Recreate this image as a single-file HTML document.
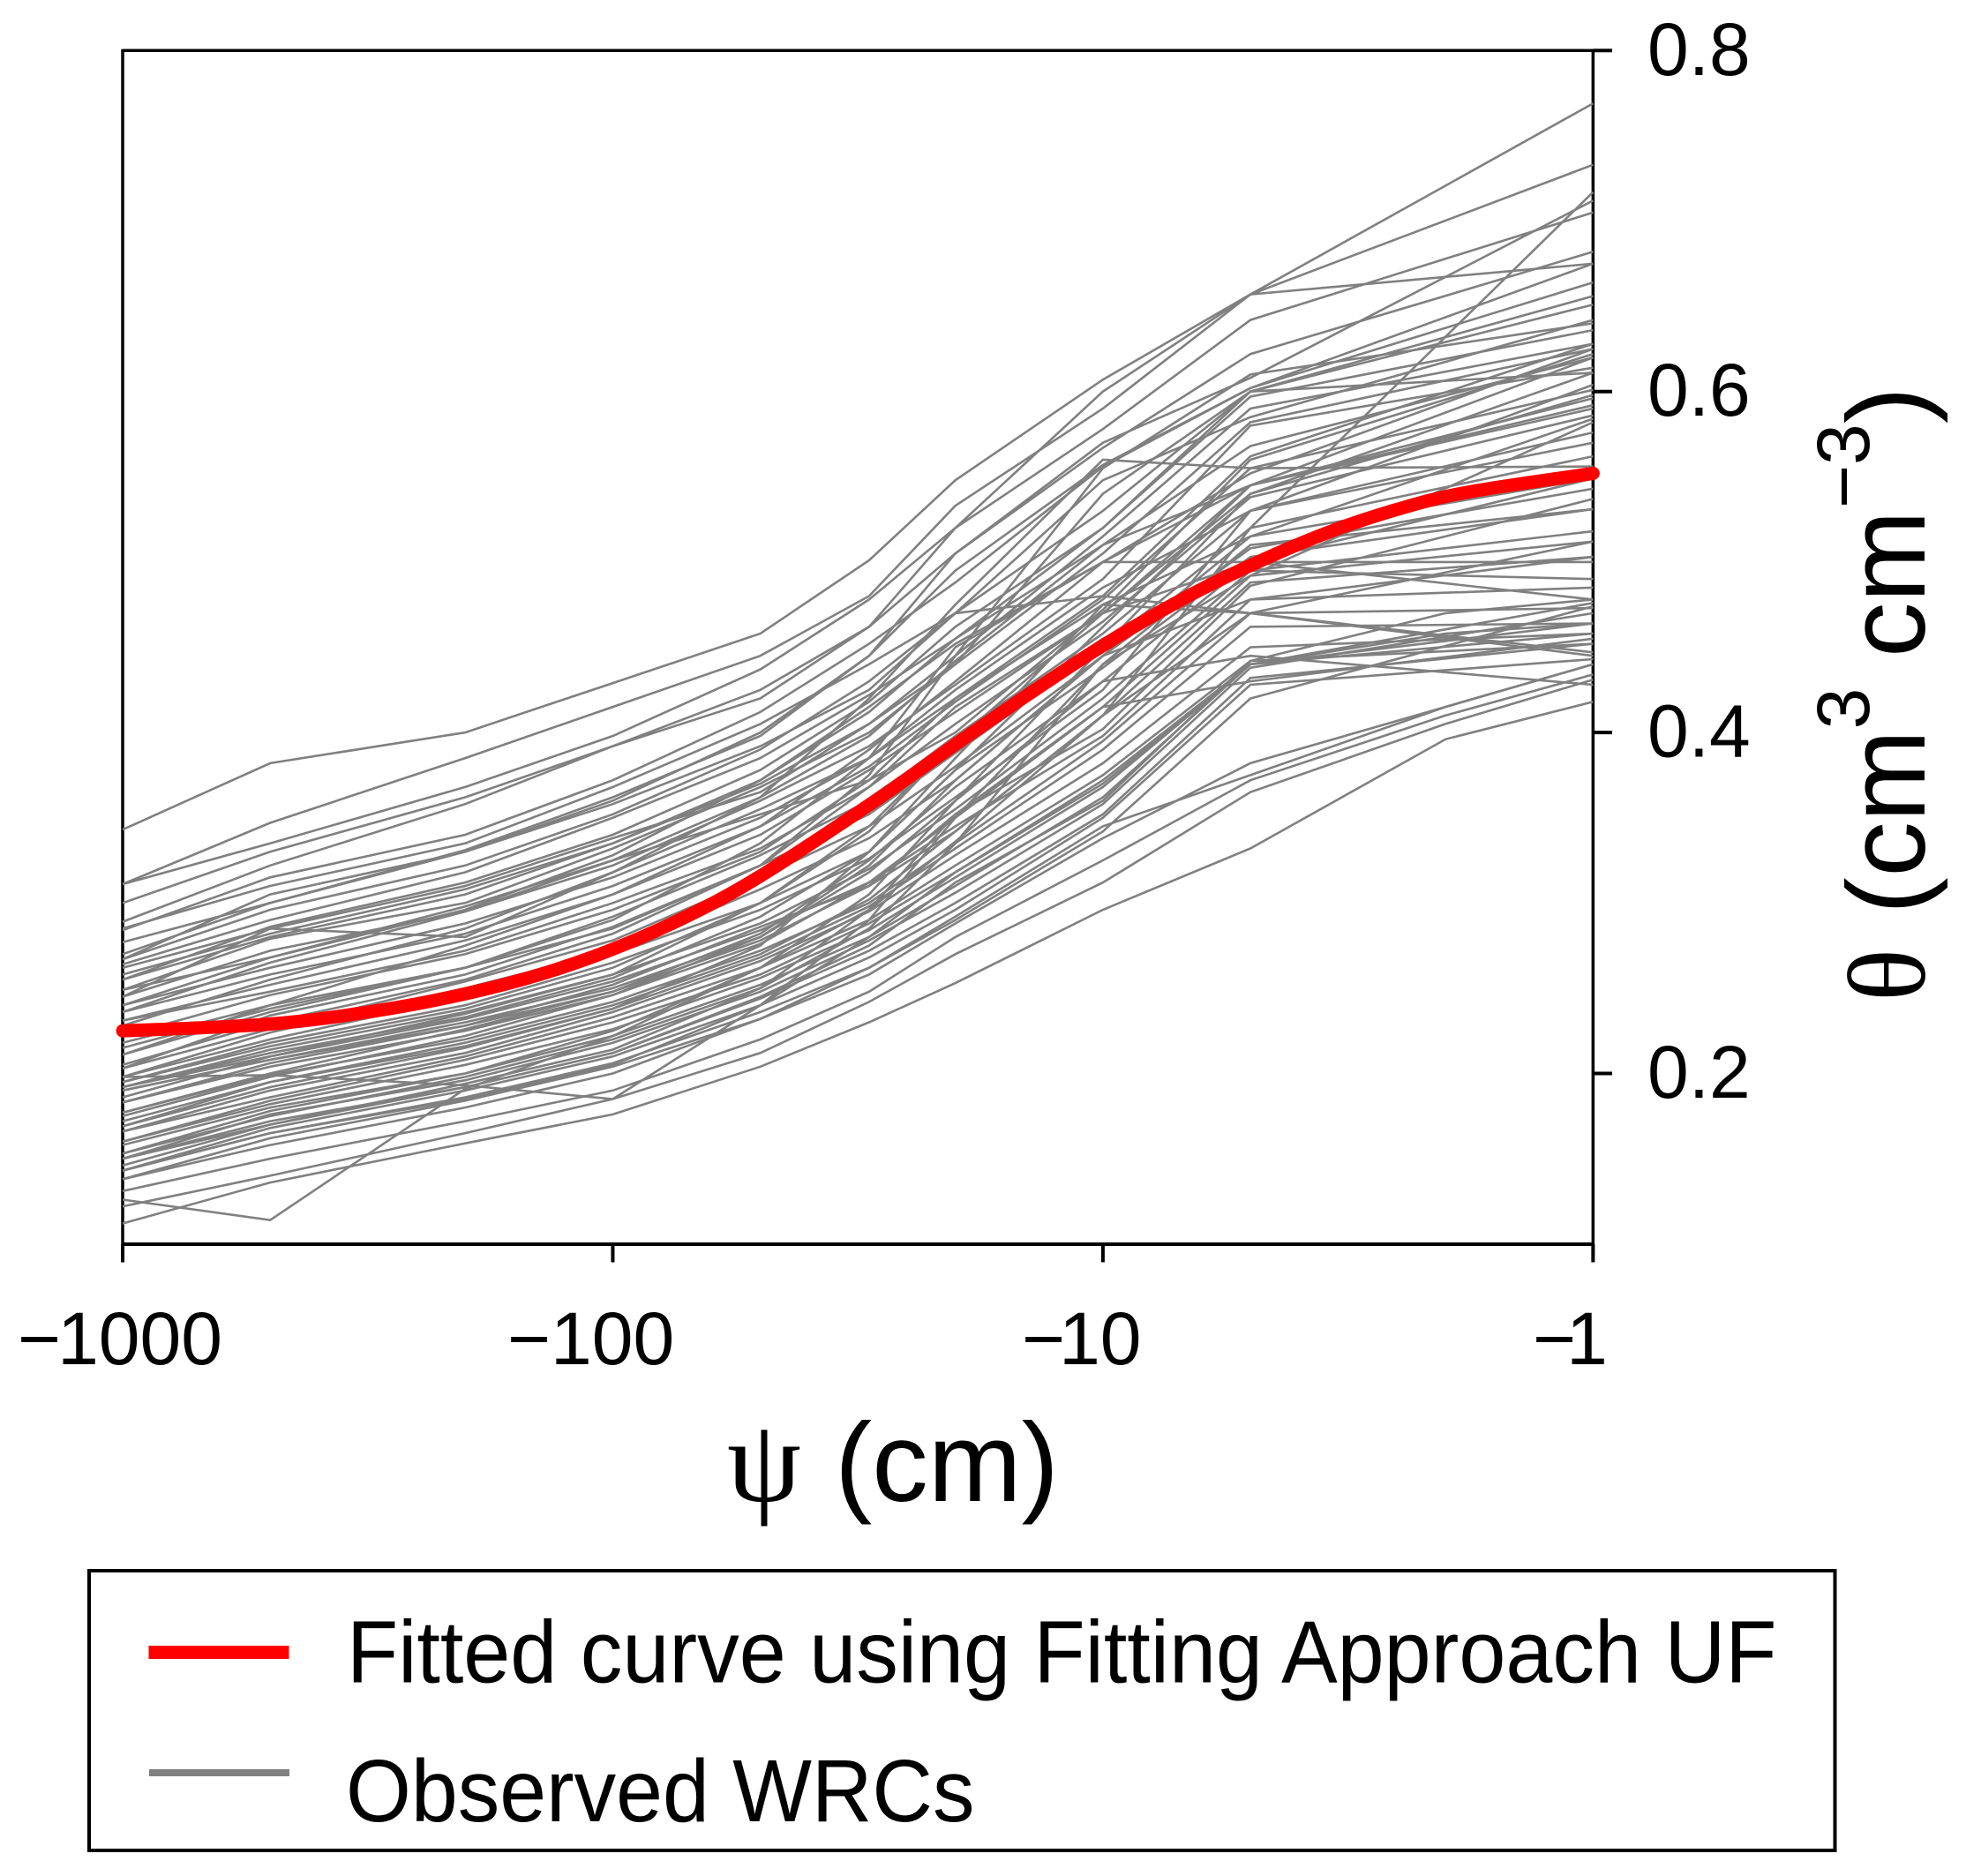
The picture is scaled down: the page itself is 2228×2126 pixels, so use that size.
<!DOCTYPE html>
<html lang="en">
<head>
<meta charset="utf-8">
<title>Water retention curves</title>
<style>
html,body{margin:0;padding:0;background:#fff;}
svg{display:block;}
text{font-family:"Liberation Sans",sans-serif;fill:#000;}
.serif{font-family:"Liberation Serif",serif;}
</style>
</head>
<body>
<svg id="chart" xmlns="http://www.w3.org/2000/svg" width="2228" height="2126" viewBox="0 0 2228 2126">
  <rect x="0" y="0" width="2228" height="2126" fill="#fff"/>
  <g id="axes"></g>
  <g id="observed"></g>
  <g id="fitted"></g>

  <g font-size="84">
    <text x="20" y="1546">−<tspan dx="-4">1000</tspan></text>
    <text x="575" y="1546">−100</text>
    <text x="1158" y="1546">−<tspan dx="-7">10</tspan></text>
    <text x="1737" y="1546">−<tspan dx="-11">1</tspan></text>
  </g>

  <g>
    <text class="serif" x="824" y="1701" font-size="134">ψ</text>
    <text x="946" y="1701" font-size="127">(cm)</text>
  </g>

  <g>
    <text class="serif" transform="translate(2181,1135) rotate(-90)" font-size="125">θ</text>
    <text transform="translate(2181,1036) rotate(-90)" font-size="125">(</text>
    <text transform="translate(2181,993.6) rotate(-90)" font-size="125">cm</text>
    <text transform="translate(2118,826.4) rotate(-90)" font-size="84">3</text>
    <text transform="translate(2181,745) rotate(-90)" font-size="125">cm</text>
    <text transform="translate(2118,576) rotate(-90)" font-size="84">−3</text>
    <text transform="translate(2181,480) rotate(-90)" font-size="125">)</text>
  </g>

  <g>
    <path d="M101 1780H2079.5V2097H101Z" fill="none" stroke="#000" stroke-width="4"/>
    <rect x="168.5" y="1865" width="159" height="15" fill="#ff0000"/>
    <text transform="translate(393,1906.5) scale(0.953,1)" font-size="100">Fitted curve using Fitting Approach UF</text>
    <rect x="169" y="2005" width="159" height="8" fill="#808080"/>
    <text transform="translate(392,2064) scale(0.95,1)" font-size="100">Observed WRCs</text>
  </g>
</svg>
<script>
const psiValues = [-1000,-500,-200,-100,-50,-30,-20,-10,-5,-1];
const psiValuesLower = [-1000,-500,-200,-100,-50,-30,-20,-10,-5,-2,-1];
const fittedPsi = [-1000,-500,-300,-200,-140,-100,-70,-50,-30,-20,-14,-10,-7,-5,-3.5,-2.5,-1.8,-1];
const fittedTheta = [.225,.229,.237,.2467,.2583,.2729,.2927,.3158,.3575,.393,.4235,.451,.477,.498,.517,.531,.541,.552];
const xTickValues = [-1000,-100,-10,-1];
const yTickValues = [0.8,0.6,0.4,0.2];
const yTickLabels = ["0.8","0.6","0.4","0.2"];

const observedCurves = [
[.343,.382,.400,.429,.458,.501,.548,.607,.657,.769],
[.311,.347,.385,.415,.445,.480,.533,.590,.657,.733],
[.311,.335,.368,.398,.437,.478,.520,.578,.642,.705],
[.289,.322,.358,.392,.420,.462,.505,.567,.622,.682],
[.284,.315,.340,.372,.412,.452,.488,.556,.602,.675],
[.277,.300,.331,.362,.398,.445,.495,.557,.602,.664],
[.267,.296,.322,.352,.390,.430,.470,.530,.600,.656],
[.264,.290,.318,.350,.385,.422,.455,.520,.600,.651],
[.267,.305,.330,.358,.392,.425,.470,.548,.585,.642],
[.255,.286,.312,.340,.378,.418,.462,.520,.597,.636],
[.255,.280,.305,.335,.370,.405,.445,.515,.590,.628],
[.249,.279,.300,.332,.368,.400,.440,.505,.582,.625],
[.249,.268,.298,.325,.362,.398,.442,.510,.568,.620],
[.245,.272,.295,.322,.360,.392,.428,.490,.580,.614],
[.245,.285,.280,.318,.355,.385,.420,.480,.562,.628],
[.236,.258,.282,.310,.345,.380,.418,.478,.555,.601],
[.236,.265,.295,.325,.352,.372,.400,.472,.560,.622],
[.231,.252,.278,.305,.340,.378,.412,.470,.545,.596],
[.231,.248,.272,.300,.332,.368,.405,.465,.538,.586],
[.211,.240,.275,.305,.345,.390,.430,.500,.552,.625],
[.211,.236,.262,.292,.328,.360,.398,.458,.530,.576],
[.203,.234,.258,.286,.322,.352,.388,.450,.520,.562],
[.203,.226,.254,.278,.315,.345,.380,.445,.515,.549],
[.198,.224,.250,.272,.308,.338,.372,.445,.508,.543],
[.198,.220,.245,.270,.300,.330,.378,.438,.503,.531],
[.195,.218,.240,.265,.296,.326,.362,.425,.530,.604],
[.195,.216,.238,.262,.300,.342,.395,.470,.540,.611],
[.192,.214,.236,.258,.288,.320,.355,.420,.495,.518],
[.192,.212,.233,.256,.292,.330,.378,.462,.545,.620],
[.192,.210,.232,.254,.284,.312,.350,.415,.492,.512],
[.190,.208,.230,.250,.280,.318,.360,.450,.540,.598],
[.190,.208,.228,.252,.286,.310,.342,.410,.488,.503],
[.183,.206,.228,.248,.278,.310,.352,.402,.486,.537],
[.183,.204,.225,.246,.276,.312,.345,.398,.478,.485],
[.177,.200,.226,.248,.282,.325,.368,.430,.500,.478],
[.177,.199,.220,.242,.272,.300,.335,.395,.470,.473],
[.169,.195,.218,.240,.270,.302,.342,.410,.520,.717],
[.169,.192,.215,.238,.268,.298,.332,.390,.462,.464],
[.166,.190,.212,.236,.266,.295,.328,.382,.450,.458],
[.166,.186,.210,.233,.262,.290,.322,.375,.442,.452],
[.160,.184,.208,.230,.258,.288,.318,.372,.440,.476],
[.160,.182,.205,.226,.256,.284,.315,.368,.440,.458],
[.153,.178,.200,.222,.252,.280,.310,.362,.440,.464],
[.153,.175,.198,.220,.250,.285,.335,.440,.510,.531],
[.150,.176,.196,.218,.248,.278,.306,.358,.438,.470],
[.150,.170,.192,.212,.244,.272,.300,.352,.432,.452],
[.143,.168,.190,.210,.240,.268,.296,.350,.428,.443],
[.143,.165,.186,.206,.236,.262,.290,.342,.420,.474],
[.138,.162,.184,.204,.232,.258,.288,.338,.382,.440],
[.126,.114,.191,.222,.262,.296,.336,.410,.470,.512],
[.198,.199,.193,.185,.240,.290,.350,.440,.492,.582],
[.285,.310,.335,.368,.405,.440,.470,.480,.470,.445],
[.262,.285,.310,.338,.365,.405,.440,.540,.600,.611],
[.205,.230,.255,.282,.322,.375,.445,.555,.610,.640],
[.228,.255,.285,.318,.362,.420,.475,.560,.555,.556],
[.215,.238,.262,.290,.335,.385,.450,.500,.545,.590],
[.240,.268,.296,.328,.372,.415,.452,.500,.500,.549],
[.175,.198,.222,.246,.280,.322,.372,.445,.478,.503],
[.300,.330,.362,.392,.425,.462,.520,.600,.657,.675],
[.270,.300,.330,.360,.400,.445,.505,.570,.608,.712],
[.258,.282,.308,.335,.372,.412,.455,.510,.545,.592],
[.240,.262,.288,.315,.350,.385,.425,.485,.530,.570],
[.222,.246,.270,.296,.330,.372,.420,.475,.515,.584],
[.218,.240,.262,.285,.322,.368,.415,.470,.500,.500],
[.186,.210,.235,.258,.300,.345,.395,.455,.495,.490],
[.172,.195,.216,.238,.275,.330,.385,.475,.470,.447],
[.158,.180,.200,.225,.262,.305,.360,.430,.445,.428],
[.146,.170,.194,.214,.250,.296,.352,.415,.430,.455]
];

const lowerCurves = [
[.112,.136,.159,.176,.204,.230,.253,.296,.332,.396,.418],
[.122,.140,.165,.185,.212,.242,.270,.312,.365,.405,.431],
[.131,.150,.172,.190,.220,.248,.280,.325,.372,.410,.434],
[.138,.158,.180,.200,.232,.262,.292,.345,.375,.415,.440],
[.143,.165,.185,.205,.240,.280,.318,.370,.440,.458,.464],
[.150,.172,.192,.212,.245,.275,.312,.360,.442,.470,.478]
];

const svgNS = 'http://www.w3.org/2000/svg';
const xLeft = 139, xDecade = 555.45;
const yTop = 57.3, yPerUnit = 1932;
function xScale(psi){ return xLeft + (3 - Math.log10(-psi)) * xDecade; }
function yScale(theta){ return yTop + (0.8 - theta) * yPerUnit; }

function makeLine(parent, x1, y1, x2, y2, width){
  const el = document.createElementNS(svgNS, 'line');
  el.setAttribute('x1', x1);
  el.setAttribute('y1', y1);
  el.setAttribute('x2', x2);
  el.setAttribute('y2', y2);
  el.setAttribute('stroke', '#000');
  el.setAttribute('stroke-width', width);
  parent.appendChild(el);
  return el;
}

const axes = document.getElementById('axes');
const xEnd = xScale(-1), yBottom = 1410, yTickEnd = 1430.5, xTickEnd = 1827;

const frameLeft = makeLine(axes, xLeft, yTop - 1.5, xLeft, yTickEnd, 3.5);


const frameRight = makeLine(axes, xEnd, yTop - 1.5, xEnd, yTickEnd, 3.5);


const frameTop = makeLine(axes, xLeft, yTop, xEnd, yTop, 3.5);


const frameBottom = makeLine(axes, xLeft, yBottom, xEnd, yBottom, 4);



xTickValues.forEach(function(v){
  const t = makeLine(axes, xScale(v), yBottom, xScale(v), yTickEnd, 4);
  
  
});

yTickValues.forEach(function(v, i){
  const t = makeLine(axes, xEnd, yScale(v), xTickEnd, yScale(v), 4);
  
  
  const label = document.createElementNS(svgNS, 'text');
  
  
  label.setAttribute('x', 1867);
  label.setAttribute('y', yScale(v) + 27.5);
  label.setAttribute('font-size', 84);
  label.textContent = yTickLabels[i];
  axes.appendChild(label);
});

const observedGroup = document.getElementById('observed');
function drawObserved(values, grid){
  const line = document.createElementNS(svgNS, 'polyline');
  
  
  line.setAttribute('points', values.map(function(v, i){
    return xScale(grid[i]).toFixed(1) + ',' + yScale(v).toFixed(1);
  }).join(' '));
  line.setAttribute('fill', 'none');
  line.setAttribute('stroke', '#808080');
  line.setAttribute('stroke-width', '2.6');
  observedGroup.appendChild(line);
}
observedCurves.forEach(function(c){ drawObserved(c, psiValues); });
lowerCurves.forEach(function(c){ drawObserved(c, psiValuesLower); });

const pts = fittedPsi.map(function(p, i){ return [xScale(p), yScale(fittedTheta[i])]; });
let d = 'M' + pts[0][0].toFixed(1) + ' ' + pts[0][1].toFixed(1);
for (let i = 0; i < pts.length - 1; i++) {
  const p0 = pts[Math.max(i - 1, 0)], p1 = pts[i], p2 = pts[i + 1], p3 = pts[Math.min(i + 2, pts.length - 1)];
  const c1x = p1[0] + (p2[0] - p0[0]) / 6, c1y = p1[1] + (p2[1] - p0[1]) / 6;
  const c2x = p2[0] - (p3[0] - p1[0]) / 6, c2y = p2[1] - (p3[1] - p1[1]) / 6;
  d += 'C' + c1x.toFixed(1) + ' ' + c1y.toFixed(1) + ' ' + c2x.toFixed(1) + ' ' + c2y.toFixed(1) + ' ' + p2[0].toFixed(1) + ' ' + p2[1].toFixed(1);
}
const fittedLine = document.createElementNS(svgNS, 'path');


fittedLine.setAttribute('d', d);
fittedLine.setAttribute('fill', 'none');
fittedLine.setAttribute('stroke', '#ff0000');
fittedLine.setAttribute('stroke-width', '15');
fittedLine.setAttribute('stroke-linecap', 'round');
fittedLine.setAttribute('stroke-linejoin', 'round');
document.getElementById('fitted').appendChild(fittedLine);
</script>
</body>
</html>
